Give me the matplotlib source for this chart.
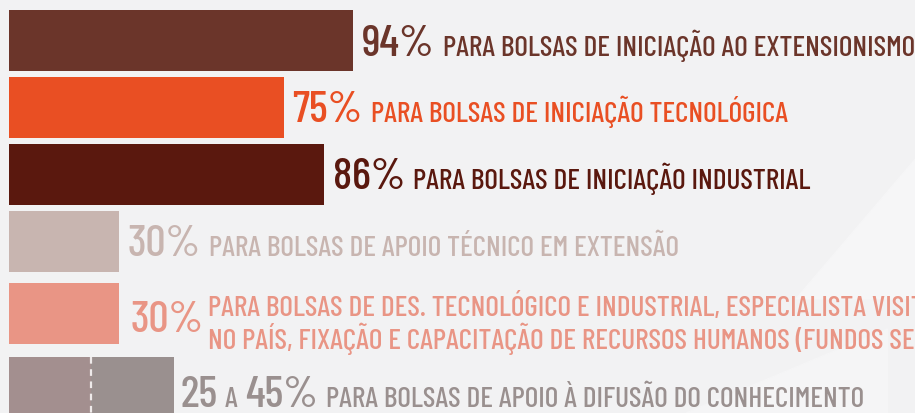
import matplotlib
matplotlib.use("Agg")
import matplotlib.pyplot as plt

valores = [94, 75, 86, 30, 30, 45]
pct_txt = ["94%", "75%", "86%", "30%", "30%", None]
rotulos = [
    "PARA BOLSAS DE INICIAÇÃO AO EXTENSIONISMO",
    "PARA BOLSAS DE INICIAÇÃO TECNOLÓGICA",
    "PARA BOLSAS DE INICIAÇÃO INDUSTRIAL",
    "PARA BOLSAS DE APOIO TÉCNICO EM EXTENSÃO",
    "PARA BOLSAS DE DES. TECNOLÓGICO E INDUSTRIAL, ESPECIALISTA VISITANTE\nNO PAÍS, FIXAÇÃO E CAPACITAÇÃO DE RECURSOS HUMANOS (FUNDOS SETORIAIS)",
    "PARA BOLSAS DE APOIO À DIFUSÃO DO CONHECIMENTO",
]
faixa_min, faixa_max = 25, 45
divisao = 22.5  # posicao da linha tracejada
cores = ["#6b352a", "#e94f23", "#5a180e", "#c8b5b0", "#e99585", "#9a908f"]
cor_faixa = "#a38f8f"

F_PCT = ["Barlow Condensed", "DejaVu Sans"]
F_ROT = ["Barlow Condensed", "DejaVu Sans"]
G = 32   # tamanho dos percentuais
R = 21.1   # tamanho dos rotulos

fig = plt.figure(figsize=(9.15, 4.14), dpi=100)
fig.patch.set_facecolor("#f2f2f3")
ax = fig.add_axes([0, 0, 1, 1])
ax.set_facecolor("#f2f2f3")
escala = 3.66  # px por ponto percentual
ax.set_xlim(-9 / escala, (915 - 9) / escala)
ax.set_ylim(414, 0)
ax.axis("off")

# fundo: formas claras suaves
ax.fill([185, 240, 240], [414, 330, 414], color="#f5f5f6", zorder=0)
ax.fill([215, 250, 250, 228], [300, 150, 300, 300], color="#f6f6f7", zorder=0)

centros = [41.5, 108.5, 175.5, 242.5, 314.5, 388.5]
altura = 61

for i, v in enumerate(valores):
    ax.barh(centros[i], v, height=altura, left=0, color=cores[i], zorder=2)

# faixa 25 a 45 %
ax.barh(centros[5], divisao, height=altura, left=0, color=cor_faixa, zorder=3)
ax.plot([divisao, divisao], [358, 414], color="#eeeaea", lw=1.6,
        ls=(0, (3, 2.5)), zorder=4)


def seguinte(prev, s, y, dx, size, fam, **kw):
    # texto logo a direita de prev, na mesma linha de base (y em dados)
    return ax.annotate(s, xy=(1, y), xycoords=(prev, "data"), xytext=(dx, 0),
                       textcoords="offset points", fontsize=size, family=fam,
                       va="baseline", ha="left", **kw)


gap = 9 / escala
for i, v in enumerate(valores):
    c = cores[i]
    base = centros[i] + 14
    kw = dict(color=c, weight=500, zorder=5)
    if i == 4:
        base = centros[i] + 17.5
        t = ax.text(v + gap + 0.8, base, pct_txt[i], fontsize=G, family=F_PCT,
                    va="baseline", **kw)
        seguinte(t, rotulos[i], centros[i] + 34.5, 3, R, F_ROT,
                 linespacing=1.02, **kw)
        continue
    if i == 5:
        base = centros[i] + 18.5
        t1 = ax.text(v + gap - 0.5, base, f"{faixa_min}", fontsize=G,
                     family=F_PCT, va="baseline", **kw)
        t2 = seguinte(t1, "A", base, 5, R, F_ROT, **kw)
        t = seguinte(t2, f"{faixa_max}%", base, 5, G, F_PCT, **kw)
    else:
        t = ax.text(v + gap, base, pct_txt[i], fontsize=G, family=F_PCT,
                    va="baseline", **kw)
    seguinte(t, rotulos[i], base, 6, R, F_ROT, **kw)

fig.savefig("out.png", dpi=100, facecolor=fig.get_facecolor())
